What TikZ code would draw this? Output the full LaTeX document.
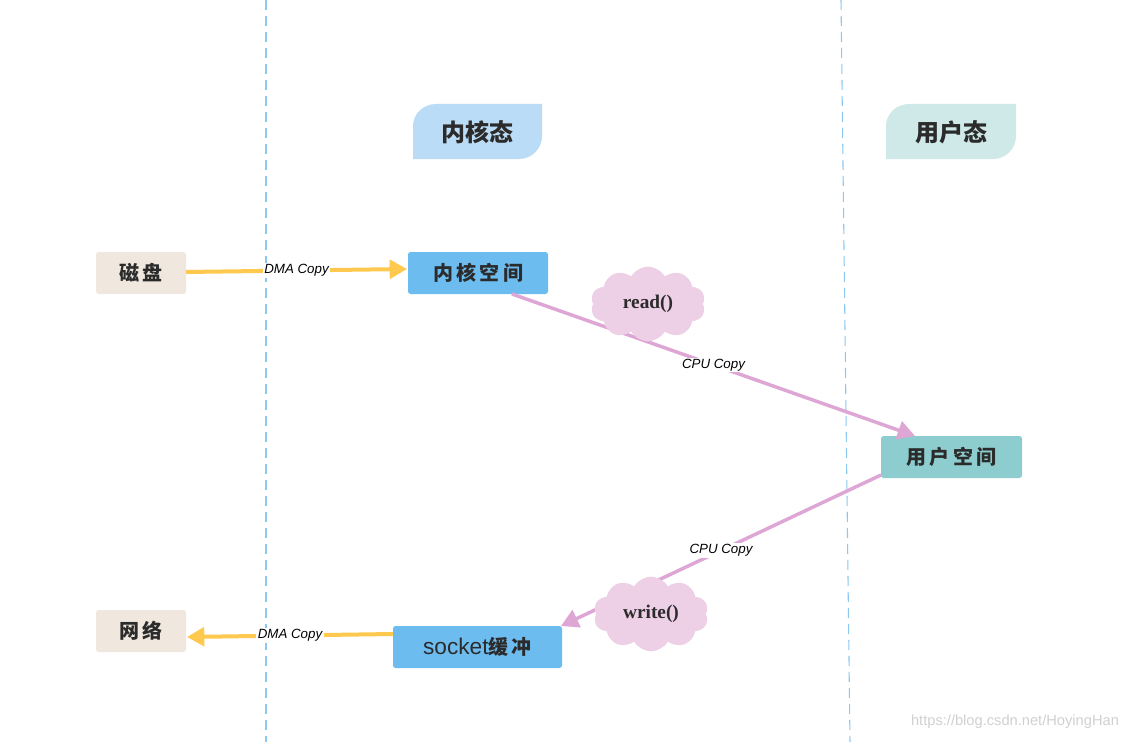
\documentclass[tikz,border=0pt]{standalone}
\usepackage{fontspec}
\setmainfont{Liberation Serif}
\newfontfamily\cjk{Noto Sans CJK SC}
\newfontfamily\lab{Liberation Sans}
\usetikzlibrary{arrows.meta,shapes.symbols}
\definecolor{beige}{HTML}{F0E8DF}
\definecolor{kblue}{HTML}{6DBCF0}
\definecolor{ktab}{HTML}{BBDCF6}
\definecolor{utab}{HTML}{CFE8E8}
\definecolor{uteal}{HTML}{8DCDCF}
\definecolor{yarrow}{HTML}{FFC94F}
\definecolor{parrow}{HTML}{DDA6D5}
\definecolor{cloudc}{HTML}{EDCFE6}
\definecolor{dashc}{HTML}{8CC8F2}
\definecolor{txt}{HTML}{2B2B2B}
\tikzset{
  box/.style={rounded corners=2pt, inner sep=0pt, text=txt, font=\cjk\bfseries\fontsize{15}{15}\selectfont},
  dma/.style={draw=yarrow, line width=3pt, -{Triangle[length=13pt,width=14pt]}},
  cpu/.style={draw=parrow, line width=2.6pt, -{Triangle[length=13pt,width=14pt]}},
  lbl/.style={fill=white, inner sep=1pt, text=black, font=\lab\itshape\fontsize{10}{10}\selectfont},
  cl/.style={cloud, cloud puffs=10, cloud puff arc=120, aspect=1.5, fill=cloudc, draw=none,
    minimum width=86pt, minimum height=56pt, text=txt, font=\bfseries\fontsize{14.5}{14.5}\selectfont},
  lane/.style={draw=dashc, line width=0.8pt, dash pattern=on 7.5pt off 4.5pt},
  tabtext/.style={text=txt, font=\cjk\bfseries\fontsize{18}{18}\selectfont}
}
\begin{document}
\begin{tikzpicture}[x=0.75pt,y=-0.75pt]
\path[use as bounding box, fill=white] (0,0) rectangle (1136,742);
% lanes
\coordinate (l1a) at (266,0); \coordinate (l1b) at (266,742);
\coordinate (l2a) at (841,0); \coordinate (l2b) at (850,742);
\draw[lane] (l1a) -- (l1b);
\draw[lane] (l2a) -- (l2b);
% tabs
\fill[ktab] (413,159) -- (413,126) to[out=90,in=180] (436,104) -- (542,104) -- (542,136) to[out=-90,in=0] (519,159) -- cycle;
\node[tabtext] (kt) at (477,132) {内核态};
\fill[utab] (886,159) -- (886,126) to[out=90,in=180] (909,104) -- (1016,104) -- (1016,136) to[out=-90,in=0] (993,159) -- cycle;
\node[tabtext] (ut) at (951,132) {用户态};
% boxes
\node[box, fill=beige, minimum width=67.5pt, minimum height=31.5pt] (disk) at (141,273) {磁\,盘};
\node[box, fill=kblue, minimum width=105pt, minimum height=31.5pt] (kspace) at (478,273) {内\,核\,空\,间};
\node[box, fill=uteal, minimum width=105.75pt, minimum height=31.5pt] (uspace) at (951.5,457) {用\,户\,空\,间};
\node[box, fill=kblue, minimum width=126.75pt, minimum height=31.5pt] (sock) at (477.5,647) {{\lab\mdseries\fontsize{17}{17}\selectfont socket}缓\,冲};
\node[box, fill=beige, minimum width=67.5pt, minimum height=31.5pt] (net) at (141,631) {网\,络};
% arrows
\coordinate (a1s) at (186,272); \coordinate (a1e) at (407,269);
\draw[dma] (a1s) -- node[lbl, pos=0.5] {DMA Copy} (a1e);
\coordinate (a2s) at (512,294); \coordinate (a2e) at (915,436);
\draw[cpu] (a2s) -- node[lbl, pos=0.5] {CPU Copy} (a2e);
\coordinate (a3s) at (881,475); \coordinate (a3e) at (561,626);
\draw[cpu] (a3s) -- node[lbl, pos=0.5] {CPU Copy} (a3e);
\coordinate (a4s) at (393,634); \coordinate (a4e) at (187,637);
\draw[dma] (a4s) -- node[lbl, pos=0.5] {DMA Copy} (a4e);
% clouds
\node[cl] (read) at (648,304) {read()};
\node[cl] (write) at (651,614) {write()};
% watermark
\node[text=black!18, font=\lab\fontsize{11}{11}\selectfont] (wm) at (1015,722) {https://blog.csdn.net/HoyingHan};
\end{tikzpicture}
\end{document}
